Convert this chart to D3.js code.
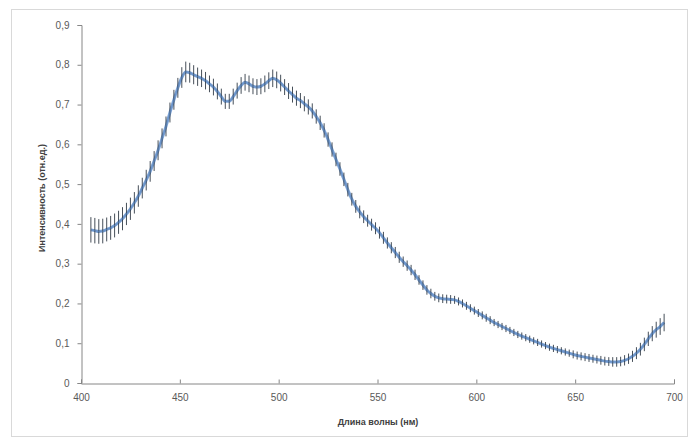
<!DOCTYPE html>
<html><head><meta charset="utf-8">
<script src="https://cdn.jsdelivr.net/npm/d3@7"></script>
<style>body{margin:0;background:#fff}svg{display:block}</style>
</head><body>
<script>
const wavelengths = [405,407,409,411,413,415,417,419,421,423,425,427,429,431,433,435,437,439,441,443,445,447,449,451,453,455,457,459,461,463,465,467,469,471,473,475,477,479,481,483,485,487,489,491,493,495,497,499,501,503,505,507,509,511,513,515,517,519,521,523,525,527,529,531,533,535,537,539,541,543,545,547,549,551,553,555,557,559,561,563,565,567,569,571,573,575,577,579,581,583,585,587,589,591,593,595,597,599,601,603,605,607,609,611,613,615,617,619,621,623,625,627,629,631,633,635,637,639,641,643,645,647,649,651,653,655,657,659,661,663,665,667,669,671,673,675,677,679,681,683,685,687,689,691,693,695];
const intensity = [0.385,0.383,0.381,0.382,0.386,0.390,0.396,0.404,0.413,0.425,0.438,0.453,0.470,0.490,0.510,0.532,0.558,0.585,0.615,0.645,0.680,0.712,0.742,0.768,0.782,0.780,0.775,0.770,0.766,0.760,0.752,0.744,0.733,0.720,0.708,0.708,0.720,0.735,0.748,0.756,0.752,0.746,0.744,0.746,0.752,0.760,0.766,0.762,0.754,0.744,0.734,0.725,0.716,0.710,0.702,0.694,0.684,0.670,0.654,0.635,0.612,0.587,0.562,0.538,0.512,0.486,0.462,0.444,0.430,0.418,0.408,0.398,0.389,0.378,0.365,0.352,0.340,0.328,0.316,0.305,0.295,0.284,0.272,0.259,0.246,0.234,0.225,0.218,0.214,0.212,0.211,0.210,0.209,0.205,0.200,0.194,0.188,0.182,0.176,0.170,0.164,0.158,0.152,0.147,0.142,0.137,0.132,0.127,0.122,0.118,0.114,0.110,0.106,0.102,0.098,0.094,0.090,0.087,0.084,0.081,0.078,0.075,0.072,0.069,0.067,0.065,0.063,0.061,0.059,0.057,0.055,0.054,0.053,0.053,0.054,0.057,0.061,0.067,0.075,0.085,0.097,0.111,0.124,0.134,0.142,0.152];
const errors = [0.032,0.032,0.031,0.031,0.030,0.030,0.030,0.029,
0.029,0.028,0.028,0.027,0.027,0.026,0.026,0.026,
0.025,0.025,0.025,0.025,0.025,0.025,0.025,0.026,
0.026,0.025,0.024,0.023,0.022,0.022,0.021,0.021,
0.020,0.020,0.019,0.019,0.020,0.020,0.021,0.021,
0.021,0.020,0.020,0.020,0.021,0.021,0.022,0.021,
0.021,0.020,0.020,0.020,0.019,0.019,0.019,0.019,
0.019,0.018,0.018,0.018,0.018,0.018,0.017,0.017,
0.017,0.017,0.016,0.016,0.016,0.016,0.015,0.015,
0.015,0.015,0.015,0.014,0.014,0.014,0.014,0.013,
0.013,0.013,0.013,0.012,0.012,0.012,0.012,0.011,
0.011,0.011,0.011,0.011,0.010,0.010,0.010,0.010,
0.010,0.010,0.010,0.010,0.010,0.010,0.009,0.009,
0.009,0.009,0.009,0.009,0.009,0.009,0.009,0.009,
0.009,0.009,0.009,0.009,0.009,0.009,0.009,0.009,
0.009,0.009,0.010,0.010,0.010,0.010,0.010,0.010,
0.010,0.011,0.011,0.011,0.012,0.012,0.012,0.013,
0.013,0.014,0.015,0.016,0.017,0.018,0.019,0.020,
0.021,0.022];
const xTicks = [400,450,500,550,600,650,700];
const yTicks = [0,0.1,0.2,0.3,0.4,0.5,0.6,0.7,0.8,0.9];
const xTitle = "Длина волны (нм)";
const yTitle = "Интенсивность (отн.ед.)";

const W = 691, H = 442;
const svg = d3.select("body").append("svg").attr("width", W).attr("height", H);
svg.append("rect").attr("x", 11.5).attr("y", 9.5).attr("width", 676).attr("height", 427)
  .attr("fill", "#fff").attr("stroke", "#d9d9d9");

const x = d3.scaleLinear().domain([400, 700]).range([81, 674]);
const y = d3.scaleLinear().domain([0, 0.9]).range([383, 25]);
const axisColor = "#868686", textColor = "#595959";
const font = "'Liberation Sans', Arial, sans-serif";

const gx = svg.append("g").attr("transform", "translate(0,383.5)")
  .call(d3.axisBottom(x).tickValues(xTicks).tickSize(-4).tickPadding(8).tickFormat(d3.format("d")));
const gy = svg.append("g").attr("transform", "translate(81.5,0)")
  .call(d3.axisLeft(y).tickValues(yTicks).tickSize(4).tickPadding(8)
    .tickFormat(d => d === 0 ? "0" : d3.format(".1f")(d).replace(".", ",")));
[gx, gy].forEach(g => {
  g.selectAll("path,line").attr("stroke", axisColor);
  g.selectAll("text").attr("fill", textColor).style("font-family", font).style("font-size", "10px");
});
gx.selectAll("text").attr("dy", "0.9em");

const data = wavelengths.map((w, i) => ({w, v: intensity[i], e: errors[i]})).filter(d => d.v != null);

svg.append("path").datum(data)
  .attr("fill", "none").attr("stroke", "#7ea3d4").attr("stroke-width", 3)
  .attr("d", d3.line().x(d => x(d.w)).y(d => y(d.v)).curve(d3.curveMonotoneX));

svg.append("g").selectAll("line").data(data).join("line")
  .attr("x1", d => x(d.w)).attr("x2", d => x(d.w))
  .attr("y1", d => y(d.v - d.e)).attr("y2", d => y(d.v + d.e))
  .attr("stroke", "#26303c").attr("stroke-width", 1).attr("stroke-opacity", 0.85);

svg.append("path").datum(data)
  .attr("fill", "none").attr("stroke", "#5b86c0").attr("stroke-width", 1.3).attr("stroke-opacity", 0.55)
  .attr("d", d3.line().x(d => x(d.w)).y(d => y(d.v)).curve(d3.curveMonotoneX));

svg.append("text").attr("x", 378).attr("y", 425).attr("text-anchor", "middle")
  .attr("fill", "#404040").style("font-family", font).style("font-size", "9px").style("font-weight", "bold")
  .text(xTitle);
svg.append("text").attr("transform", "translate(45,198) rotate(-90)").attr("text-anchor", "middle")
  .attr("fill", "#404040").style("font-family", font).style("font-size", "9px").style("font-weight", "bold")
  .text(yTitle);
</script>
</body></html>
